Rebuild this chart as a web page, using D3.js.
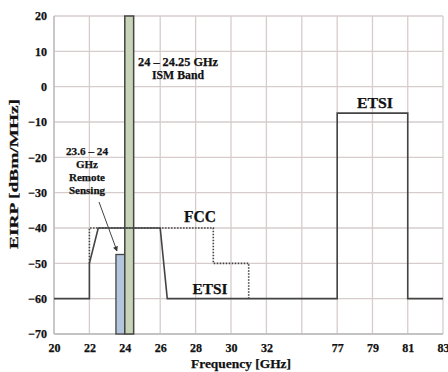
<!DOCTYPE html>
<html><head><meta charset="utf-8">
<script src="https://cdn.jsdelivr.net/npm/d3@7"></script>
<style>body{margin:0;background:#fff}svg{display:block}text{font-family:"Liberation Serif","Times New Roman",serif;font-weight:bold;fill:#111;stroke:#111;stroke-width:0.25}</style>
</head><body><svg id="c" width="448" height="372"></svg>
<script>
// Data
const xTickValues = [20,22,24,26,28,30,32,54.5,77,79,81,83];
const xTickLabels = ["20","22","24","26","28","30","32","","77","79","81","83"];
const yTickValues = [20,10,0,-10,-20,-30,-40,-50,-60,-70];
// ETSI mask (solid)
const etsiFreq = [20,22,22,22.5,26,26.4,77,77,81,81,83];
const etsiEirp = [-60,-60,-50,-40,-40,-60,-60,-7.5,-7.5,-60,-60];
// FCC mask (dotted)
const fccFreq = [22,22,29,29,31,31];
const fccEirp = [-50,-40,-40,-50,-50,-60];
// Bands
const ismBand = [24,24.5,20];       // from, to, top
const sensingBand = [23.5,24,-47.5]; // from, to, top

const svg = d3.select("#c");
const x = d3.scaleLinear().domain([20,32,77,83]).range([54,266.4,337.2,443]);
const y = d3.scaleLinear().domain([-70,20]).range([334,16]);

// grid
const g = svg.append("g");
g.selectAll(".vx").data(xTickValues).join("line")
  .attr("x1",d=>x(d)).attr("x2",d=>x(d)).attr("y1",y(20)).attr("y2",y(-70))
  .attr("stroke","#d6cccc").attr("stroke-width",1.3);
g.selectAll(".hy").data(yTickValues).join("line")
  .attr("x1",x(20)).attr("x2",x(83)).attr("y1",d=>y(d)).attr("y2",d=>y(d))
  .attr("stroke","#d6cccc").attr("stroke-width",1.3);
g.append("line").attr("x1",x(20)).attr("x2",x(20)).attr("y1",y(20)).attr("y2",y(-70)).attr("stroke","#bbb").attr("stroke-width",1.3);
g.append("line").attr("x1",x(20)).attr("x2",x(83)).attr("y1",y(-70)).attr("y2",y(-70)).attr("stroke","#bbb").attr("stroke-width",1.3);

// axes tick labels
const xAxis = d3.axisBottom(x).tickValues(xTickValues).tickFormat((d,i)=>xTickLabels[i]).tickSize(0).tickPadding(9);
const xa = svg.append("g").attr("transform",`translate(0,${y(-70)})`).call(xAxis);
xa.select(".domain").remove();
xa.selectAll("text").attr("font-size",12).attr("font-family","Liberation Serif").attr("font-weight","bold").attr("fill","#111");
const yAxis = d3.axisLeft(y).tickValues(yTickValues).tickSize(0).tickPadding(7);
const ya = svg.append("g").attr("transform",`translate(${x(20)},0)`).call(yAxis);
ya.select(".domain").remove();
ya.selectAll("text").attr("font-size",12).attr("font-family","Liberation Serif").attr("font-weight","bold").attr("fill","#111");

// bands
svg.append("rect").attr("x",x(sensingBand[0])).attr("y",y(sensingBand[2]))
  .attr("width",x(sensingBand[1])-x(sensingBand[0])).attr("height",y(-70)-y(sensingBand[2]))
  .attr("fill","#b3c6dd").attr("stroke","#444").attr("stroke-width",1.3);
svg.append("rect").attr("x",x(ismBand[0])).attr("y",y(ismBand[2]))
  .attr("width",x(ismBand[1])-x(ismBand[0])).attr("height",y(-70)-y(ismBand[2]))
  .attr("fill","#c8d4b8").attr("stroke","#444").attr("stroke-width",1.5);

// lines
const line = d3.line().x(d=>x(d[0])).y(d=>y(d[1]));
svg.append("path").datum(fccFreq.map((f,i)=>[f,fccEirp[i]])).attr("d",line)
  .attr("fill","none").attr("stroke","#444").attr("stroke-width",1.6).attr("stroke-dasharray","1.5,1.5");
svg.append("path").datum(etsiFreq.map((f,i)=>[f,etsiEirp[i]])).attr("d",line)
  .attr("fill","none").attr("stroke","#444").attr("stroke-width",1.6);

// arrow
svg.append("defs").append("marker").attr("id","ah").attr("viewBox","0 0 10 10").attr("refX",9).attr("refY",5)
  .attr("markerWidth",5).attr("markerHeight",5).attr("orient","auto")
  .append("path").attr("d","M0,0L10,5L0,10z").attr("fill","#333");
svg.append("line").attr("x1",99).attr("y1",202).attr("x2",117).attr("y2",251)
  .attr("stroke","#444").attr("stroke-width",1).attr("marker-end","url(#ah)");

// annotations
function txt(s,xx,yy,fs,len){const t=svg.append("text").attr("x",xx).attr("y",yy).attr("text-anchor","middle").attr("font-size",fs).text(s);
  if(len) t.attr("textLength",len).attr("lengthAdjust","spacingAndGlyphs"); return t;}
txt("24 – 24.25  GHz",178,66,12,80);
txt("ISM Band",178,79,12,52);
txt("23.6 – 24",87,155,11,42);
txt("GHz",87,168,11);
txt("Remote",87,181,11);
txt("Sensing",87,194,11);
txt("FCC",200,222,16,32);
txt("ETSI",210,294,15,35);
txt("ETSI",375,108,15,36);
txt("Frequency [GHz]",241,368,13.5,100);
svg.append("text").attr("transform","translate(18,174) rotate(-90)").attr("text-anchor","middle").attr("font-size",13.5)
  .attr("textLength",150).attr("lengthAdjust","spacingAndGlyphs").text("EIRP [dBm/MHz]");
</script></body></html>
